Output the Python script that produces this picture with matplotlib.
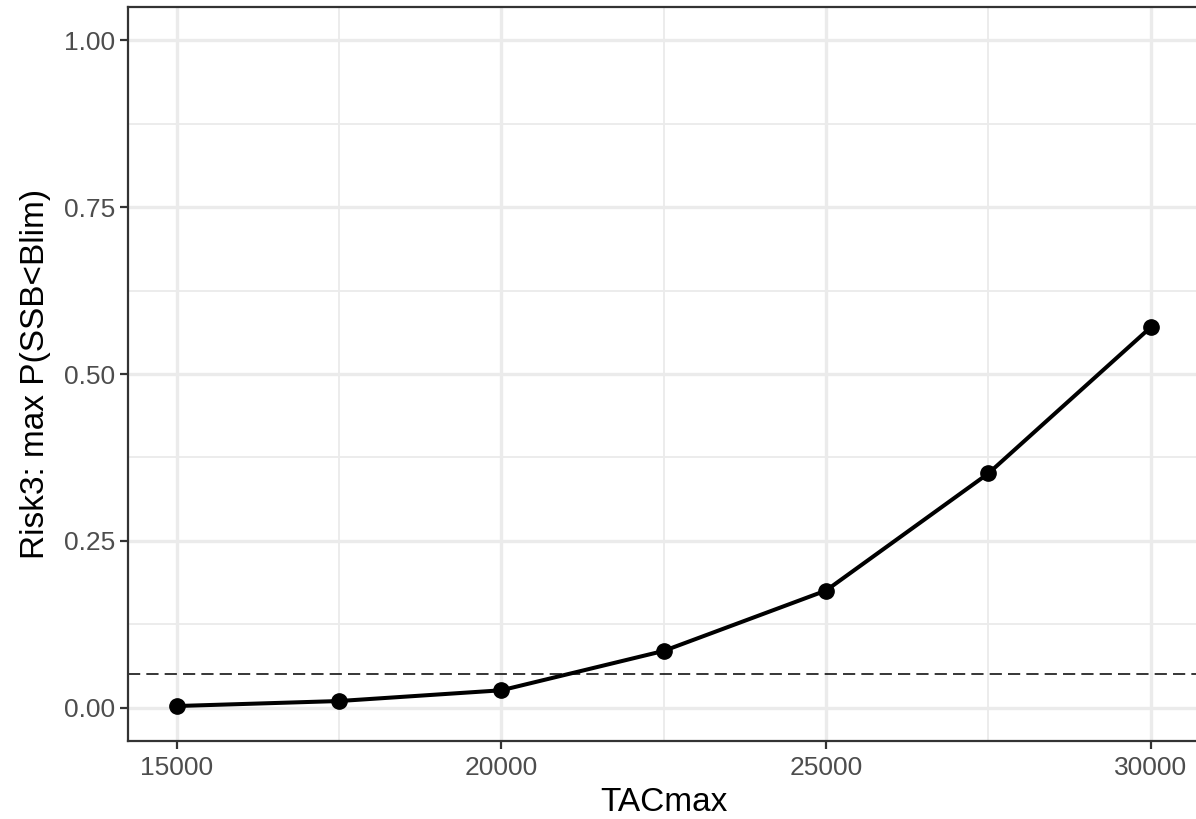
import numpy as np
import matplotlib.pyplot as plt

# risk curve per TAC ceiling
tac_max = [15000, 17500, 20000, 22500, 25000, 27500, 30000]
risk3 = [0.0024, 0.0099, 0.026, 0.085, 0.1755, 0.351, 0.570]
risk_limit = 0.05

x_ticks = [15000, 20000, 25000, 30000]
x_minor = [17500, 22500, 27500]
y_ticks = [0.0, 0.25, 0.5, 0.75, 1.0]
y_minor = [0.125, 0.375, 0.625, 0.875]

plt.rcParams['font.family'] = ['Liberation Sans', 'DejaVu Sans']

fig = plt.figure(figsize=(11.96, 8.19), dpi=100)
ax = fig.add_axes([128/1196, 78/819, (1199.4-128)/1196, (741-7)/819])

# theme_bw style grid
for v in x_minor:
    ax.axvline(v, color='#EBEBEB', lw=1.3, zorder=0)
for v in y_minor:
    ax.axhline(v, color='#EBEBEB', lw=1.3, zorder=0)
for v in x_ticks:
    ax.axvline(v, color='#EBEBEB', lw=2.4, zorder=0)
for v in y_ticks:
    ax.axhline(v, color='#EBEBEB', lw=2.4, zorder=0)

ax.axhline(risk_limit, color='black', lw=1.1, dashes=(8, 4), zorder=2)
ax.plot(tac_max, risk3, color='black', lw=2.9, marker='o', ms=11, zorder=3)

ax.set_xlim(14250, 30750)
ax.set_ylim(-0.05, 1.05)
ax.set_xticks(x_ticks)
ax.set_yticks(y_ticks)
ax.set_yticklabels(['0.00', '0.25', '0.50', '0.75', '1.00'])

for s in ax.spines.values():
    s.set_color('#333333')
    s.set_linewidth(1.6)
ax.tick_params(length=5.5, width=1.6, color='#333333', labelcolor='#4D4D4D',
               labelsize=19)
ax.tick_params(axis='x', pad=5)
ax.tick_params(axis='y', pad=4)

ax.set_xlabel('TACmax', fontsize=24, labelpad=5)
ax.set_ylabel('Risk3: max P(SSB<Blim)', fontsize=24, labelpad=9)

fig.savefig('out.png', dpi=100)
